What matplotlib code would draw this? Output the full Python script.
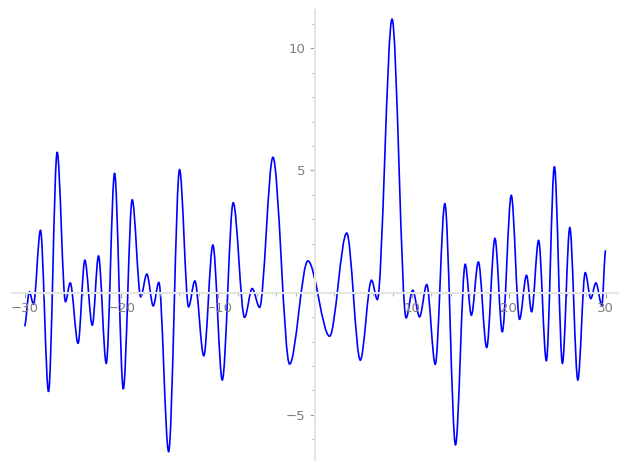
import matplotlib
matplotlib.use('Agg')
import matplotlib.pyplot as plt
from matplotlib.path import Path
from matplotlib.patches import PathPatch
from matplotlib.ticker import MultipleLocator, FuncFormatter

# turning points of the curve (x, y)
xs = [-30.0, -29.5, -29.07, -28.35, -27.52, -26.63, -25.77, -25.28, -24.47, -23.77,
      -23.0, -22.36, -21.56, -20.7, -19.8, -18.88, -18.0, -17.37, -16.71, -16.13,
      -15.12, -13.99, -13.06, -12.41, -11.49, -10.55, -9.58, -8.45, -7.28, -6.49,
      -5.73, -4.35, -2.63, -0.74, 1.5, 3.27, 4.67, 5.83, 6.43, 7.95,
      9.4, 10.08, 10.79, 11.53, 12.41, 13.4, 14.5, 15.5, 16.14, 16.86,
      17.72, 18.57, 19.33, 20.26, 21.11, 21.83, 22.36, 23.08, 23.88, 24.71,
      25.54, 26.3, 27.13, 27.89, 28.47, 28.99, 29.61, 30.0]
ys = [-1.37, 0.03, -0.47, 2.55, -4.05, 5.75, -0.37, 0.4, -2.07, 1.33,
      -1.33, 1.5, -2.89, 4.89, -3.94, 3.8, -0.17, 0.76, -0.54, 0.42,
      -6.5, 5.03, -0.58, 0.48, -2.58, 1.95, -3.57, 3.68, -1.01, 0.17,
      -0.6, 5.54, -2.92, 1.3, -1.78, 2.44, -2.76, 0.51, -0.28, 11.19,
      -1.03, 0.1, -0.99, 0.33, -2.93, 3.64, -6.22, 1.16, -0.92, 1.26,
      -2.24, 2.22, -1.6, 3.98, -1.09, 0.71, -0.78, 2.14, -2.78, 5.16,
      -2.89, 2.66, -3.57, 0.82, -0.24, 0.4, -0.51, 1.73]

fig = plt.figure(figsize=(6.27, 4.70), dpi=100)
ax = fig.add_axes([0.019, 0.021, 0.967, 0.957])

# smooth line through the turning points (flat tangent at each one)
verts = [(xs[0], ys[0])]
codes = [Path.MOVETO]
for i in range(1, len(xs)):
    x0, y0, x1, y1 = xs[i - 1], ys[i - 1], xs[i], ys[i]
    d = (x1 - x0) / 3
    verts += [(x0 + d, y0), (x1 - d, y1), (x1, y1)]
    codes += [Path.CURVE4] * 3
ax.add_patch(PathPatch(Path(verts, codes), facecolor='none', edgecolor='blue', lw=1.2))

ax.set_xlim(-31.3, 31.3)
ax.set_ylim(-6.85, 11.55)

# sage-like axes crossing at the origin
for s in ['top', 'right']:
    ax.spines[s].set_visible(False)
ax.spines['left'].set_position(('data', 0))
ax.spines['bottom'].set_position(('data', 0))
for s in ['left', 'bottom']:
    ax.spines[s].set_color('#e4e4e4')
    ax.spines[s].set_linewidth(1.5)

ax.xaxis.set_major_locator(MultipleLocator(10))
ax.xaxis.set_minor_locator(MultipleLocator(2))
ax.yaxis.set_major_locator(MultipleLocator(5))
ax.yaxis.set_minor_locator(MultipleLocator(1))

def fmt(v, pos):
    if abs(v) < 1e-9:
        return ''
    return f'{int(round(v))}'.replace('-', '\u2212')

ax.xaxis.set_major_formatter(FuncFormatter(fmt))
ax.yaxis.set_major_formatter(FuncFormatter(fmt))
ax.tick_params(which='major', direction='out', length=3.5, width=0.8,
               color='#a0a0a0', labelcolor='#7f7f7f', labelsize=9.5, pad=3.5)
ax.tick_params(which='minor', direction='out', length=2, width=0.6, color='#a0a0a0')

plt.savefig('out.png', dpi=100)
